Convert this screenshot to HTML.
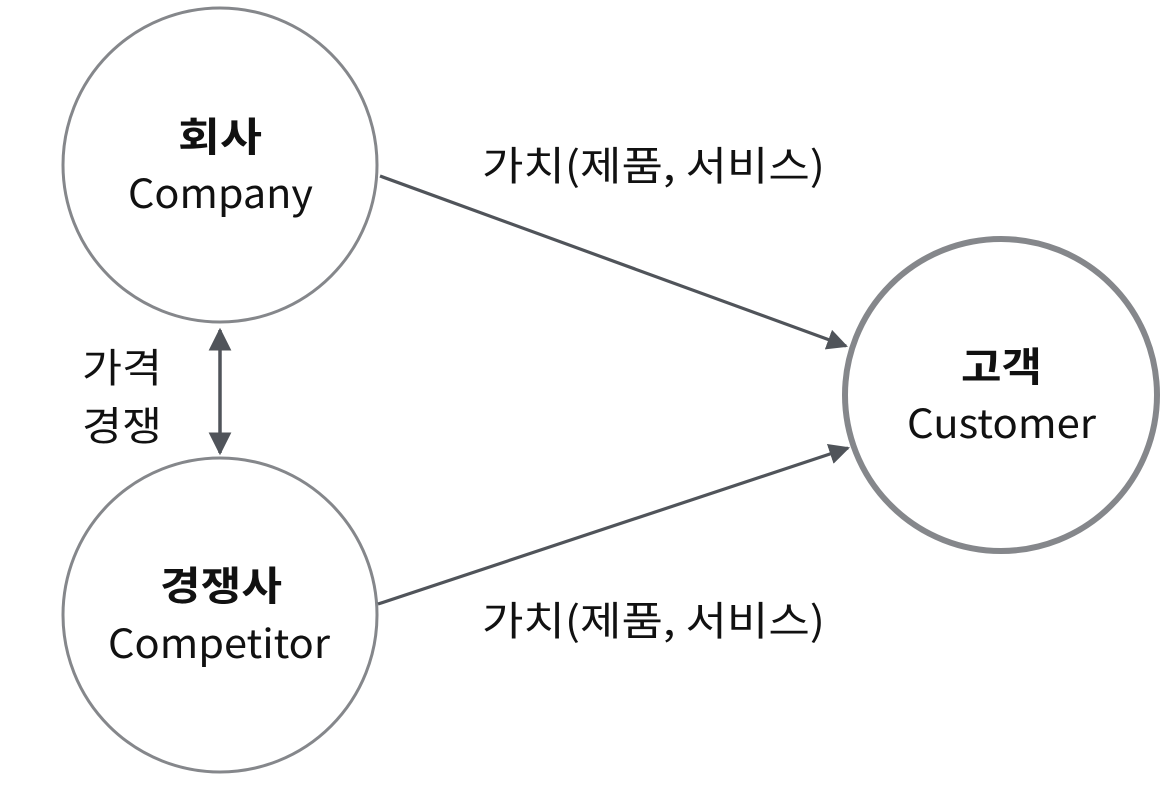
<!DOCTYPE html>
<html><head><meta charset="utf-8"><style>
html,body{margin:0;padding:0;background:#fff;}
svg text{font-family:"Liberation Sans","Noto Sans CJK KR",sans-serif;fill:#111;}
svg text.k{font-family:"Noto Sans CJK KR",sans-serif;}
</style></head><body>
<svg width="1170" height="780" viewBox="0 0 1170 780" xmlns="http://www.w3.org/2000/svg">
<defs>
<marker id="a" viewBox="0 0 10 10" refX="9" refY="5" markerWidth="6.5" markerHeight="6.5" orient="auto-start-reverse" markerUnits="strokeWidth">
<path d="M0,0 L10,5 L0,10 z" fill="#50545a"/></marker>
</defs>
<circle cx="220" cy="165" r="157" fill="#fff" stroke="#85878b" stroke-width="3"/>
<circle cx="220" cy="615" r="157" fill="#fff" stroke="#85878b" stroke-width="3"/>
<circle cx="1001" cy="395" r="156" fill="#fff" stroke="#85878b" stroke-width="6"/>
<line x1="380" y1="176" x2="846" y2="346" stroke="#50545a" stroke-width="3.2" marker-end="url(#a)"/>
<line x1="378" y1="604" x2="848" y2="448" stroke="#50545a" stroke-width="3.2" marker-end="url(#a)"/>
<line x1="220" y1="330" x2="220" y2="453" stroke="#50545a" stroke-width="3.5" marker-start="url(#a)" marker-end="url(#a)"/>
<text class="k" x="178" y="151" font-size="40" font-weight="bold" textLength="84" lengthAdjust="spacingAndGlyphs">회사</text>
<text class="k" x="128" y="208" font-size="40" textLength="185" lengthAdjust="spacingAndGlyphs">Company</text>
<text class="k" x="160" y="600" font-size="40" font-weight="bold" textLength="122" lengthAdjust="spacingAndGlyphs">경쟁사</text>
<text class="k" x="108" y="658" font-size="40" textLength="222" lengthAdjust="spacingAndGlyphs">Competitor</text>
<text class="k" x="961" y="381" font-size="40" font-weight="bold" textLength="81" lengthAdjust="spacingAndGlyphs">고객</text>
<text class="k" x="907" y="438" font-size="40" textLength="189" lengthAdjust="spacingAndGlyphs">Customer</text>
<text class="k" x="482" y="180" font-size="40" textLength="343" lengthAdjust="spacingAndGlyphs">가치(제품, 서비스)</text>
<text class="k" x="482" y="635" font-size="40" textLength="343" lengthAdjust="spacingAndGlyphs">가치(제품, 서비스)</text>
<text class="k" x="82" y="382" font-size="40" textLength="80" lengthAdjust="spacingAndGlyphs">가격</text>
<text class="k" x="82" y="440" font-size="40" textLength="80" lengthAdjust="spacingAndGlyphs">경쟁</text>
</svg>
</body></html>
